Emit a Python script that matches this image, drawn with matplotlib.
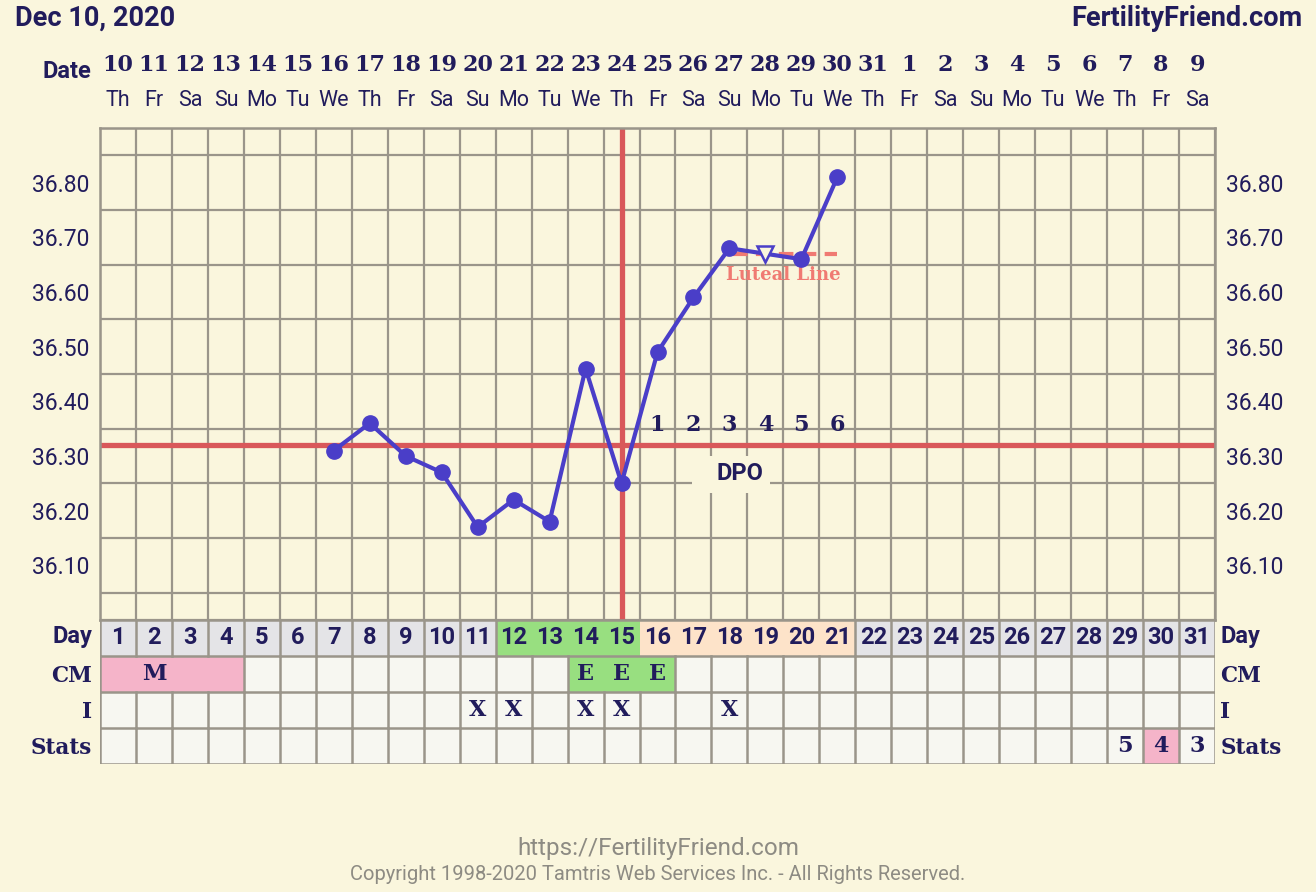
import numpy as np
import matplotlib
matplotlib.use('Agg')
import matplotlib.pyplot as plt
from matplotlib.transforms import blended_transform_factory
from matplotlib.patches import Rectangle

# chart data
cycle_days = list(range(1, 32))
date_labels = [str(d) for d in range(10, 32)] + [str(d) for d in range(1, 10)]
weekdays = ['Th', 'Fr', 'Sa', 'Su', 'Mo', 'Tu', 'We'] * 4 + ['Th', 'Fr', 'Sa']
temp_days = [7, 8, 9, 10, 11, 12, 13, 14, 15, 16, 17, 18, 19, 20, 21]
temps = [36.31, 36.36, 36.30, 36.27, 36.17, 36.22, 36.18, 36.46, 36.25,
         36.49, 36.59, 36.68, 36.67, 36.66, 36.81]
open_days = [19]  # open triangle marker
coverline = 36.32
ovulation_day = 15
luteal_level = 36.67
luteal_days = [18.1, 21.0]
dpo_days = [16, 17, 18, 19, 20, 21]
dpo_labels = ['1', '2', '3', '4', '5', '6']
fertile_days = [12, 13, 14, 15]
luteal_phase_days = [16, 17, 18, 19, 20, 21]
cm_marks = {2: 'M', 14: 'E', 15: 'E', 16: 'E'}
period_days = [1, 2, 3, 4]
egg_days = [14, 15, 16]
intercourse_days = [11, 12, 14, 15, 18]
stats = {29: '5', 30: '4', 31: '3'}
stats_highlight = [30]

# colours
bg = '#faf6dd'
cell_bg = '#f7f7f1'
grid_c = '#9a958a'
navy = '#211c5c'
blue = '#4a3ec8'
red = '#d9585a'
salmon = '#f07a72'
gray_day = '#e4e4e7'
green = '#98df80'
peach = '#fde3c9'
pink = '#f5b4c9'
foot_c = '#8d8b83'

W, H = 1316, 892
fig = plt.figure(figsize=(W / 100, H / 100), dpi=100, facecolor=bg)

x0, x1 = 100, 1215
ax = fig.add_axes([x0 / W, (H - 620) / H, (x1 - x0) / W, 492 / H])
ax.set_facecolor(bg)
ax.set_axisbelow(True)
ax.set_xlim(0.5, 31.5)
ax.set_ylim(36.0, 36.9)
ax.set_xticks(np.arange(0.5, 32, 1), minor=True)
ax.set_xticks([])
ax.set_yticks(np.round(np.arange(36.10, 36.81, 0.10), 2))
ax.set_yticks(np.arange(36.0, 36.91, 0.05), minor=True)
ax.yaxis.set_major_formatter(matplotlib.ticker.FormatStrFormatter('%.2f'))
ax.grid(True, which='minor', color=grid_c, linewidth=1.6)
ax.tick_params(which='both', length=0, labelleft=True, labelright=True,
               labelsize=16.5, labelcolor=navy, pad=8)
for lab in ax.get_yticklabels():
    lab.set_fontfamily('Roboto')
for s in ax.spines.values():
    s.set_color(grid_c)
    s.set_linewidth(1.8)

# DPO box
ax.add_patch(Rectangle((16.96, 36.232), 2.17, 0.068, facecolor=bg, edgecolor='none', zorder=1))
ax.text(18.3, 36.268, 'DPO', ha='center', va='center', fontsize=17, fontweight='bold',
        color=navy, family='Roboto', zorder=2)

ax.axhline(coverline, color=red, linewidth=3.8, zorder=2)
ax.axvline(ovulation_day, color=red, linewidth=3.8, zorder=2)

for d, lab in zip(dpo_days, dpo_labels):
    ax.text(d, 36.357, lab, ha='center', va='center', fontsize=16, fontweight='bold',
            color=navy, family='DejaVu Serif', zorder=2)

# luteal line
ax.plot(luteal_days, [luteal_level] * 2, color=salmon, linewidth=3, dashes=(3.5, 2), zorder=3)
ax.text(19.5, 36.632, 'Luteal Line', ha='center', va='center', fontsize=13,
        fontweight='bold', color=salmon, family='DejaVu Serif', zorder=3)

ax.plot(temp_days, temps, color=blue, linewidth=3, zorder=4)
solid = [(d, t) for d, t in zip(temp_days, temps) if d not in open_days]
hollow = [(d, t) for d, t in zip(temp_days, temps) if d in open_days]
ax.plot([p[0] for p in solid], [p[1] for p in solid], 'o', color=blue, markersize=11, zorder=5)
ax.plot([p[0] for p in hollow], [p[1] for p in hollow], 'v', markerfacecolor=bg,
        markeredgecolor=blue, markeredgewidth=1.8, markersize=12, zorder=5)

# header
tr = blended_transform_factory(ax.transData, fig.transFigure)
for d, lab, wd in zip(cycle_days, date_labels, weekdays):
    ax.text(d, 1 - 65 / H, lab, transform=tr, ha='center', va='center', fontsize=16,
            fontweight='bold', color=navy, family='DejaVu Serif')
    ax.text(d, 1 - 100 / H, wd, transform=tr, ha='center', va='center', fontsize=15.5,
            color=navy, family='Roboto')
fig.text(67 / W, 1 - 72 / H, 'Date', ha='center', va='center', fontsize=17,
         fontweight='bold', color=navy, family='Roboto')
fig.text(15 / W, 1 - 18 / H, 'Dec 10, 2020', ha='left', va='center', fontsize=19.5,
         fontweight='bold', color=navy, family='Roboto')
fig.text(1302 / W, 1 - 18 / H, 'FertilityFriend.com', ha='right', va='center', fontsize=19.5,
         fontweight='bold', color=navy, family='Roboto')

# table
ax2 = fig.add_axes([x0 / W, (H - 764) / H, (x1 - x0) / W, 144 / H])
ax2.set_xlim(0.5, 31.5)
ax2.set_ylim(4, 0)
ax2.axis('off')

day_colors = [green if d in fertile_days else peach if d in luteal_phase_days else gray_day
              for d in cycle_days]
cm_colors = [pink if d in period_days else green if d in egg_days else cell_bg
             for d in cycle_days]
i_colors = [cell_bg] * 31
st_colors = [pink if d in stats_highlight else cell_bg for d in cycle_days]
row_defaults = [gray_day, cell_bg, cell_bg, cell_bg]
rows = [day_colors, cm_colors, i_colors, st_colors]
for row, cols in enumerate(rows):
    ax2.bar(cycle_days, 1, bottom=row, width=1, color=cols, edgecolor='none',
            align='center', zorder=1)
    # vertical borders, skipped between two highlighted cells
    for k in range(32):
        left = cols[k - 1] if k > 0 else None
        right = cols[k] if k < 31 else None
        if (left is not None and right is not None and left != row_defaults[row]
                and right != row_defaults[row]):
            continue
        ax2.plot([k + 0.5, k + 0.5], [row, row + 1], color=grid_c, linewidth=1.8,
                 solid_capstyle='projecting', zorder=2)
for r in range(5):
    ax2.plot([0.5, 31.5], [r, r], color=grid_c, linewidth=1.8,
             solid_capstyle='projecting', zorder=2)

for d in cycle_days:
    ax2.text(d, 0.5, str(d), ha='center', va='center', fontsize=17, fontweight='bold',
             color=navy, family='Roboto', zorder=3)
for d, m in cm_marks.items():
    ax2.text(d, 1.5, m, ha='center', va='center', fontsize=16, fontweight='bold',
             color=navy, family='DejaVu Serif', zorder=3)
for d in intercourse_days:
    ax2.text(d, 2.5, 'X', ha='center', va='center', fontsize=16, fontweight='bold',
             color=navy, family='DejaVu Serif', zorder=3)
for d, s in stats.items():
    ax2.text(d, 3.5, s, ha='center', va='center', fontsize=16, fontweight='bold',
             color=navy, family='DejaVu Serif', zorder=3)

row_names = ['Day', 'CM', 'I', 'Stats']
row_fonts = ['Roboto', 'DejaVu Serif', 'DejaVu Serif', 'DejaVu Serif']
for r, (nm, fam) in enumerate(zip(row_names, row_fonts)):
    yy = r + (0.45 if r == 0 else 0.55)
    ax2.text(0.28, yy, nm, ha='right', va='center', fontsize=17 if r == 0 else 15.5,
             fontweight='bold', color=navy, family=fam)
    ax2.text(31.65, yy, nm, ha='left', va='center', fontsize=17 if r == 0 else 15.5,
             fontweight='bold', color=navy, family=fam)

# footer
fig.text(0.5, 1 - 848 / H, 'https://FertilityFriend.com', ha='center', va='center',
         fontsize=17.5, color=foot_c, family='Roboto')
fig.text(0.5, 1 - 875 / H, 'Copyright 1998-2020 Tamtris Web Services Inc. - All Rights Reserved.',
         ha='center', va='center', fontsize=14.5, color=foot_c, family='Roboto')

fig.savefig('out.png', dpi=100, facecolor=bg)
